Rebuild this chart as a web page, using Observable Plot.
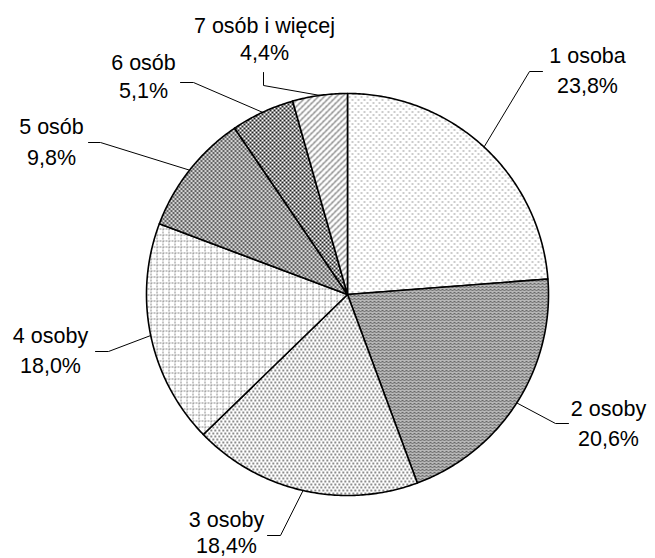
<!DOCTYPE html>
<html><head><meta charset="utf-8">
<script src="https://cdn.jsdelivr.net/npm/d3@7"></script>
<script src="https://cdn.jsdelivr.net/npm/@observablehq/plot@0.6"></script>
<style>body{margin:0;background:#fff}</style>
</head><body><div id="chart"></div>
<script>
// ---- data ----
const categories = ["1 osoba","2 osoby","3 osoby","4 osoby","5 osób","6 osób","7 osób i więcej"];
const shares = [23.8, 20.6, 18.4, 18.0, 9.8, 5.1, 4.4];
const shareLabels = ["23,8%","20,6%","18,4%","18,0%","9,8%","5,1%","4,4%"];

// ---- layout ----
const W = 655, H = 558, cx = 347, cy = 294, R = 201;
const labelLayout = [
  {x: 587, y1: 62,  y2: 92,  elbow: [529, 71],  end: [542, 71]},
  {x: 608, y1: 415, y2: 445, elbow: [555, 423], end: [568, 423]},
  {x: 226, y1: 526, y2: 552, elbow: [280, 535], end: [267, 535]},
  {x: 50,  y1: 342, y2: 372, elbow: [108, 351], end: [95, 351]},
  {x: 51,  y1: 133, y2: 164, elbow: [100, 142], end: [88, 142]},
  {x: 143, y1: 69,  y2: 97,  elbow: [193, 82],  end: [180, 82]},
  {x: 264, y1: 32,  y2: 59,  elbow: [263, 85],  end: [263, 72]}
];
const patterns = ["url(#p1)","url(#p2)","url(#p3)","url(#p4)","url(#p5)","url(#p6)","url(#p7)"];

const arcs = d3.pie().sort(null).value(d => d)(shares);
const px = a => cx + R * Math.sin(a);
const py = a => cy - R * Math.cos(a);

const slicePts = [];
arcs.forEach((a, i) => {
  const key = categories[i];
  slicePts.push({key, x: cx, y: cy, pat: patterns[i]});
  const n = Math.max(2, Math.ceil((a.endAngle - a.startAngle) / 0.01));
  for (let k = 0; k <= n; k++) {
    const t = a.startAngle + (a.endAngle - a.startAngle) * k / n;
    slicePts.push({key, x: px(t), y: py(t), pat: patterns[i]});
  }
  slicePts.push({key, x: cx, y: cy, pat: patterns[i]});
});

const leaderPts = [];
const textRows = [];
arcs.forEach((a, i) => {
  const m = (a.startAngle + a.endAngle) / 2;
  const L = labelLayout[i];
  const key = categories[i];
  leaderPts.push({key, x: px(m), y: py(m)});
  leaderPts.push({key, x: L.elbow[0], y: L.elbow[1]});
  leaderPts.push({key, x: L.end[0], y: L.end[1]});
  textRows.push({x: L.x, y: L.y1, text: categories[i]});
  textRows.push({x: L.x, y: L.y2, text: shareLabels[i]});
});

const chart = Plot.plot({
  width: W, height: H,
  margin: 0,
  x: {type: "linear", domain: [0, W], range: [0, W], axis: null},
  y: {type: "linear", domain: [0, H], range: [0, H], axis: null},
  color: {type: "identity"},
  style: {background: "#fff"},
  marks: [
    Plot.line(slicePts, {x: "x", y: "y", z: "key", fill: "pat", stroke: "#000", strokeWidth: 1.6, strokeLinejoin: "round"}),
    Plot.line(leaderPts, {x: "x", y: "y", z: "key", stroke: "#000", strokeWidth: 1}),
    Plot.text(textRows, {x: "x", y: "y", text: "text", textAnchor: "middle", lineAnchor: "bottom", fontSize: 21.5, fontFamily: "Liberation Sans, Arial, sans-serif", fill: "#000"})
  ]
});

const defs = `
<pattern id="p1" width="6" height="6" patternUnits="userSpaceOnUse">
  <rect width="6" height="6" fill="#fff"/>
  <rect x="0" y="0" width="2" height="1" fill="#999"/>
  <rect x="3" y="3" width="2" height="1" fill="#999"/>
</pattern>
<pattern id="p2" width="4" height="3" patternUnits="userSpaceOnUse">
  <rect width="4" height="3" fill="#fff"/>
  <path d="M0,2.5 L2,0.5 L4,2.5" fill="none" stroke="#444" stroke-width="1.1"/>
</pattern>
<pattern id="p3" width="4" height="6" patternUnits="userSpaceOnUse">
  <rect width="4" height="6" fill="#fff"/>
  <rect x="0" y="0" width="1.5" height="2" fill="#666"/>
  <rect x="2" y="3" width="1.5" height="2" fill="#666"/>
</pattern>
<pattern id="p4" width="6" height="6" patternUnits="userSpaceOnUse">
  <rect width="6" height="6" fill="#fff"/>
  <path d="M0.5,0 V6 M0,0.5 H6" fill="none" stroke="#888" stroke-width="1" stroke-dasharray="2,1"/>
</pattern>
<pattern id="p5" width="4" height="4" patternUnits="userSpaceOnUse">
  <rect width="4" height="4" fill="#fff"/>
  <rect x="0" y="0" width="2" height="1" fill="#222"/>
  <rect x="1" y="1" width="1" height="1" fill="#444"/>
  <rect x="2" y="2" width="2" height="1" fill="#222"/>
  <rect x="3" y="3" width="1" height="1" fill="#444"/>
  <rect x="3" y="1" width="1" height="1" fill="#555"/>
  <rect x="1" y="3" width="1" height="1" fill="#555"/>
</pattern>
<pattern id="p6" width="4" height="4" patternUnits="userSpaceOnUse">
  <rect width="4" height="4" fill="#fff"/>
  <path d="M0,0 L4,4 M4,0 L0,4" fill="none" stroke="#222" stroke-width="1"/>
</pattern>
<pattern id="p7" width="6" height="6" patternUnits="userSpaceOnUse">
  <rect width="6" height="6" fill="#fff"/>
  <path d="M0,6 L6,0 M-1,1 L1,-1 M5,7 L7,5" fill="none" stroke="#777" stroke-width="1.2"/>
  <path d="M1,3 L2,4 M4,0 L5,1" fill="none" stroke="#999" stroke-width="0.8"/>
</pattern>`;
const d = document.createElementNS("http://www.w3.org/2000/svg", "defs");
d.innerHTML = defs;
chart.insertBefore(d, chart.firstChild);
document.getElementById("chart").appendChild(chart);
</script>
</body></html>
